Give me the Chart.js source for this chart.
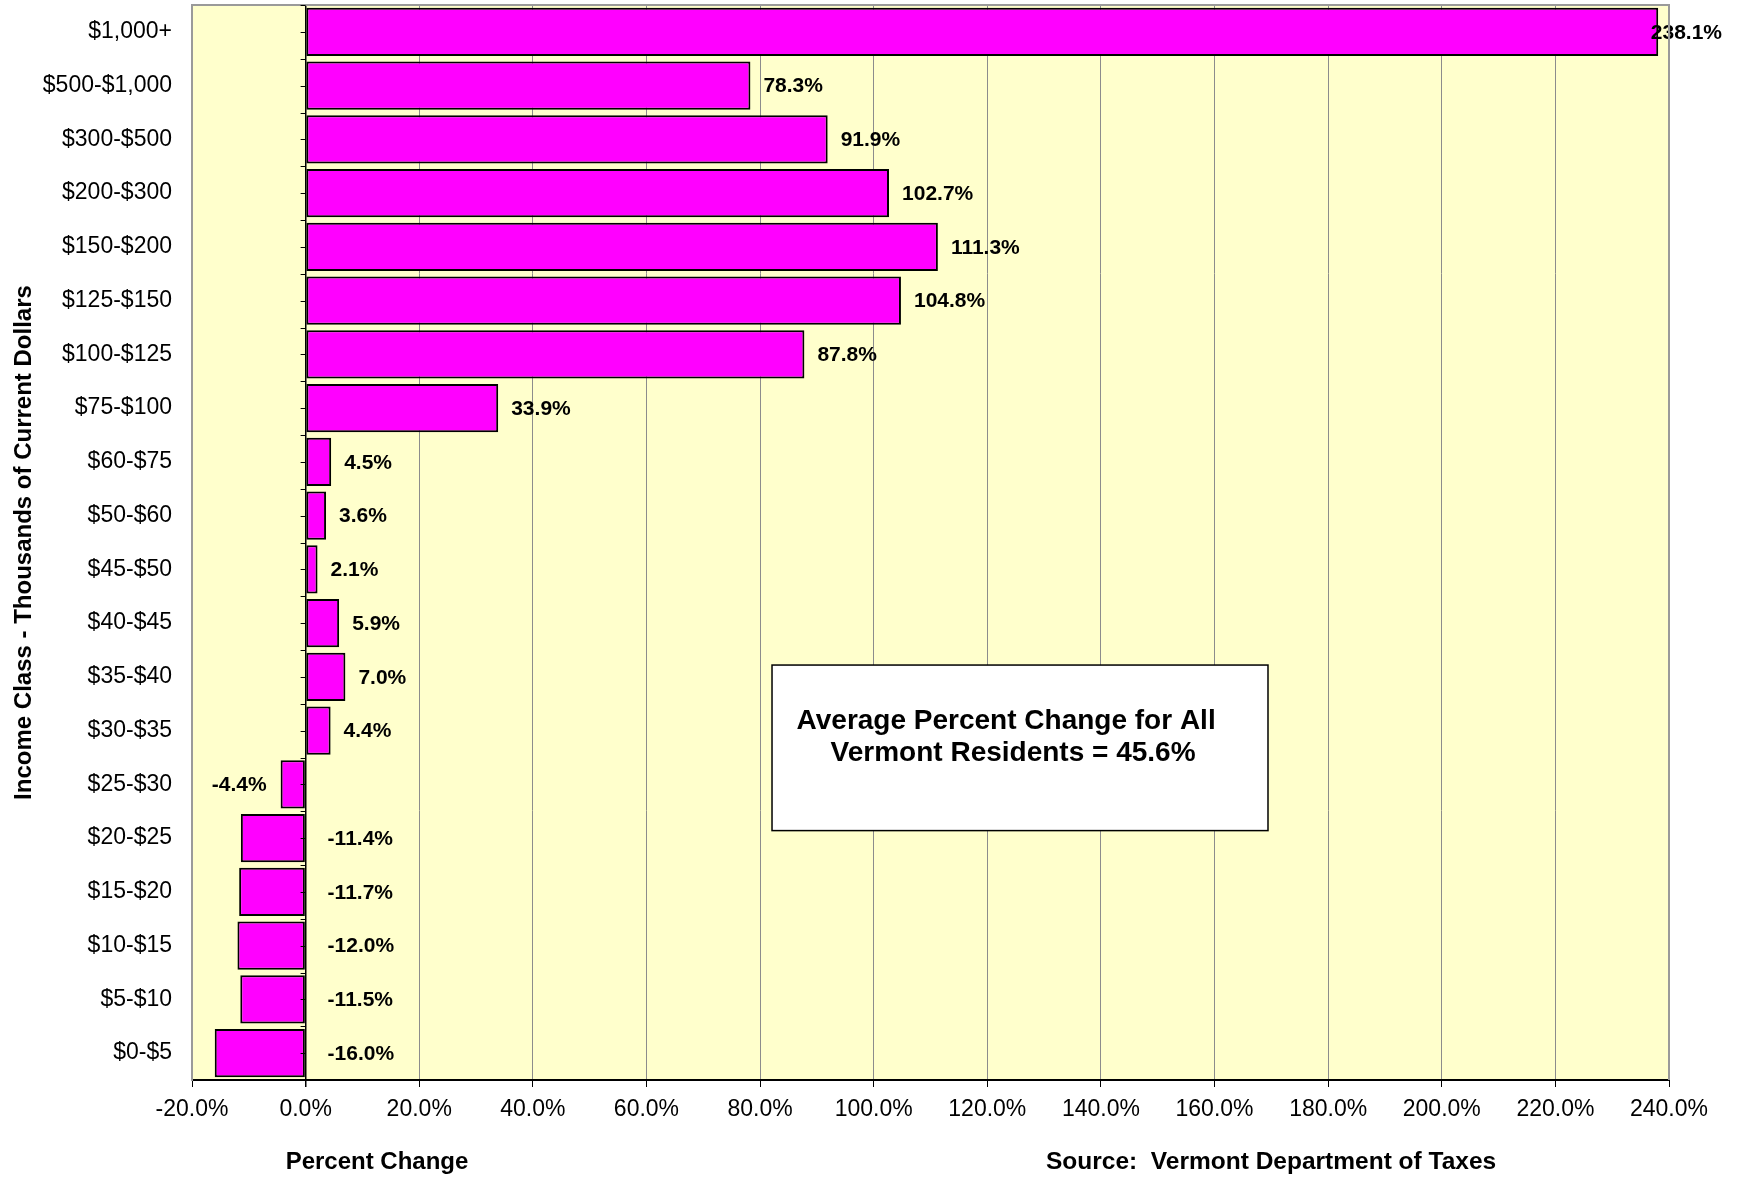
<!DOCTYPE html>
<html>
<head>
<meta charset="utf-8">
<script src="https://cdn.jsdelivr.net/npm/chart.js@4/dist/chart.umd.min.js"></script>
<style>
  body { margin: 0; background: #ffffff; }
</style>
</head>
<body>
<canvas id="incomeChart" width="1739" height="1179"></canvas>
<script>
const incomeClasses = [
    '$1,000+', '$500-$1,000', '$300-$500', '$200-$300', '$150-$200',
    '$125-$150', '$100-$125', '$75-$100', '$60-$75', '$50-$60',
    '$45-$50', '$40-$45', '$35-$40', '$30-$35', '$25-$30',
    '$20-$25', '$15-$20', '$10-$15', '$5-$10', '$0-$5'
];
const percentChange = [
    238.1, 78.3, 91.9, 102.7, 111.3,
    104.8, 87.8, 33.9, 4.5, 3.6,
    2.1, 5.9, 7.0, 4.4, -4.4,
    -11.4, -11.7, -12.0, -11.5, -16.0
];
const xMin = -20, xMax = 240, xStep = 20;
const averageNote = ['Average Percent Change for All', 'Vermont Residents = 45.6%'];
const xTitle = 'Percent Change';
const yTitle = 'Income Class - Thousands of Current Dollars';
const sourceNote = 'Source:  Vermont Department of Taxes';

const FONT = "'Liberation Sans', Arial, sans-serif";

// yellow plot area behind grid and bars
const plotBackground = {
    id: 'plotBackground',
    beforeDraw(chart) {
        const {ctx, chartArea: a} = chart;
        ctx.save();
        ctx.fillStyle = '#FFFFCC';
        ctx.fillRect(a.left, a.top, a.right - a.left, a.bottom - a.top);
        ctx.restore();
    },
    afterDraw(chart) {
        const {ctx, chartArea: a} = chart;
        ctx.save();
        ctx.strokeStyle = '#9a9a9a';
        ctx.lineWidth = 2;
        ctx.beginPath();
        ctx.moveTo(a.left, a.top);
        ctx.lineTo(a.right, a.top);
        ctx.lineTo(a.right, a.bottom);
        ctx.stroke();

        // small ticks on the zero line
        const zero = chart.scales.x.getPixelForValue(0);
        const step = (a.bottom - a.top) / incomeClasses.length;
        ctx.strokeStyle = '#000';
        ctx.lineWidth = 1;
        for (let i = 0; i <= incomeClasses.length * 2; i++) {
            const y = Math.round(a.top + step * i / 2) + 0.5;
            ctx.beginPath();
            ctx.moveTo(zero - 5, y);
            ctx.lineTo(zero, y);
            ctx.stroke();
        }
        ctx.restore();
    }
};

// value labels at bar ends
const barValueLabels = {
    id: 'barValueLabels',
    afterDatasetsDraw(chart) {
        const {ctx} = chart;
        const meta = chart.getDatasetMeta(0);
        const zero = chart.scales.x.getPixelForValue(0);
        ctx.save();
        ctx.font = 'bold 21px ' + FONT;
        ctx.fillStyle = '#000';
        ctx.textBaseline = 'middle';
        ctx.textAlign = 'left';
        meta.data.forEach((bar, i) => {
            const v = percentChange[i];
            const text = v.toFixed(1) + '%';
            const w = ctx.measureText(text).width;
            let x;
            if (v >= 0) {
                x = Math.min(bar.x + 13, chart.width - 17 - w);
            } else if (v > -10) {
                x = bar.x - 14 - w;
            } else {
                x = zero + 22;
            }
            ctx.fillText(text, x, bar.y + 1);
        });
        ctx.restore();
    }
};

// note box and bottom texts
const notes = {
    id: 'notes',
    afterDraw(chart) {
        const {ctx, chartArea: a} = chart;
        const w = a.right - a.left, h = a.bottom - a.top;
        const bx = a.left + w * 0.3927, by = a.top + h * 0.614;
        const bw = w * 0.3358, bh = h * 0.154;
        ctx.save();
        ctx.fillStyle = '#fff';
        ctx.fillRect(bx, by, bw, bh);
        ctx.strokeStyle = '#000';
        ctx.lineWidth = 1.5;
        ctx.strokeRect(bx, by, bw, bh);

        ctx.fillStyle = '#000';
        ctx.textAlign = 'center';
        ctx.textBaseline = 'middle';
        ctx.font = 'bold 28px ' + FONT;
        ctx.fillText(averageNote[0], bx + bw * 0.472, by + bh * 0.34);
        ctx.fillText(averageNote[1], bx + bw * 0.486, by + bh * 0.53);

        ctx.font = 'bold 24px ' + FONT;
        ctx.fillText(xTitle, a.left + 185, chart.height - 17);
        ctx.textAlign = 'left';
        ctx.font = 'bold 24.5px ' + FONT;
        ctx.fillText(sourceNote, a.left + 854, chart.height - 17);
        ctx.restore();
    }
};

new Chart(document.getElementById('incomeChart'), {
    type: 'bar',
    plugins: [plotBackground, barValueLabels, notes],
    data: {
        labels: incomeClasses,
        datasets: [{
            data: percentChange,
            backgroundColor: '#FF00FF',
            borderColor: '#000000',
            borderWidth: 2,
            borderSkipped: false,
            barPercentage: 0.9,
            categoryPercentage: 1.0
        }]
    },
    options: {
        indexAxis: 'y',
        responsive: false,
        devicePixelRatio: 1,
        animation: false,
        layout: {padding: {top: 5, right: 70, left: 0, bottom: 0}},
        plugins: {
            legend: {display: false},
            tooltip: {enabled: false}
        },
        scales: {
            x: {
                min: xMin,
                max: xMax,
                afterFit: (scale) => { scale.height = 99; },
                ticks: {
                    stepSize: xStep,
                    padding: 9,
                    color: '#000',
                    font: {family: FONT, size: 23},
                    callback: (v) => Number(v).toFixed(1) + '%'
                },
                grid: {
                    color: (c) => (c.tick && c.tick.value === 0) ? '#000' : '#8c8c8c',
                    lineWidth: (c) => (c.tick && c.tick.value === 0) ? 1.5 : 1,
                    tickColor: '#000',
                    tickLength: 7
                },
                border: {color: '#000', width: 2}
            },
            y: {
                afterFit: (scale) => {
                    scale.width = 192;
                    scale.paddingTop = 0;
                    scale.paddingBottom = 0;
                },
                ticks: {
                    padding: 20,
                    color: '#000',
                    font: {family: FONT, size: 23}
                },
                grid: {display: false, drawTicks: false},
                border: {color: '#9a9a9a', width: 2},
                title: {
                    display: true,
                    text: yTitle,
                    color: '#000',
                    padding: {top: 10, bottom: 4},
                    font: {family: FONT, size: 24, weight: 'bold'}
                }
            }
        }
    }
});
</script>
</body>
</html>
